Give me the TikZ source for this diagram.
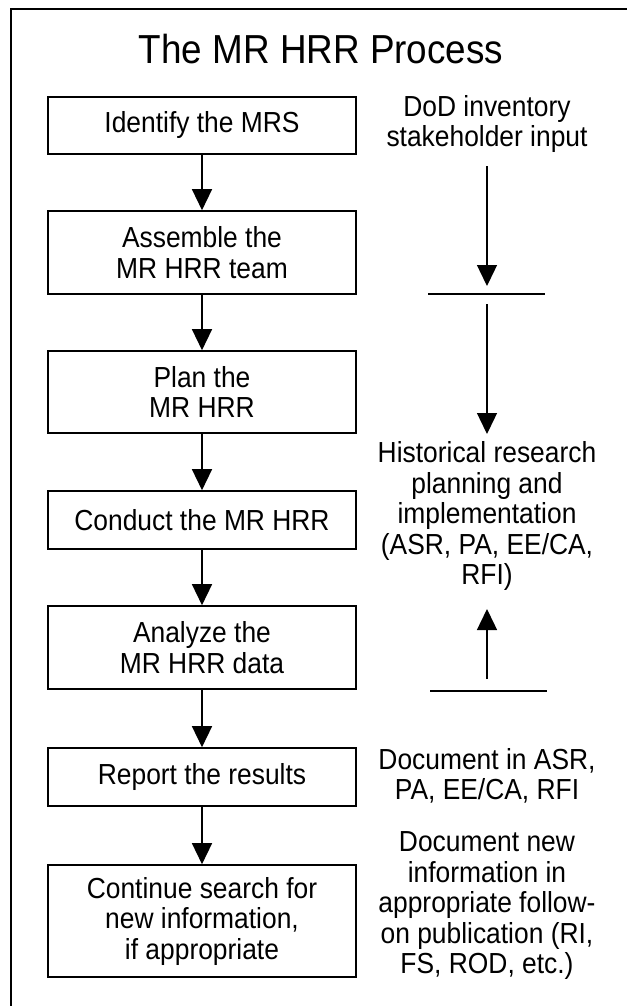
\documentclass[tikz,border=0pt]{standalone}
\usepackage{fontspec}
\setmainfont{Liberation Sans}[FakeStretch=0.91]
\usetikzlibrary{arrows.meta}
\begin{document}
\begin{tikzpicture}[x=1pt,y=-1pt,
  box/.style={draw, line width=1.6pt, minimum width=308pt, inner sep=0pt, align=center, font=\fontsize{29}{30.5}\selectfont},
  lbl/.style={align=center, inner sep=0pt, font=\fontsize{29}{30.5}\selectfont},
  arr/.style={line width=1.4pt, -{Triangle[width=20pt,length=21pt]}},
  bar/.style={line width=1.6pt}]
\useasboundingbox (0,0) rectangle (627,1006);
% frame
\coordinate (fb) at (11,1006);
\coordinate (ftl) at (11,9);
\coordinate (fr) at (627,9);
\draw[line width=2pt] (fb) -- (ftl) -- (fr);
% title
\node[inner sep=0pt, font=\fontsize{40.5}{43}\selectfont] (title) at (321,49) {The MR HRR Process};
% left boxes
\node[box, minimum height=57pt] (b1) at (202,125.5) {Identify the MRS};
\node[box, minimum height=83pt] (b2) at (202,252.5) {Assemble the\\MR HRR team};
\node[box, minimum height=82pt] (b3) at (202,392) {Plan the\\MR HRR};
\node[box, minimum height=58pt] (b4) at (202,520) {Conduct the MR HRR};
\node[box, minimum height=83pt] (b5) at (202,647.5) {Analyze the\\MR HRR data};
\node[box, minimum height=58pt] (b6) at (202,777) {Report the results};
\node[box, minimum height=112pt] (b7) at (202,921) {Continue search for\\new information,\\if appropriate};
\foreach \a/\b in {b1/b2,b2/b3,b3/b4,b4/b5,b5/b6,b6/b7}
  \draw[arr] (\a.south) -- (\b.north);
% right column
\node[lbl] (r1) at (487,124) {DoD inventory\\stakeholder input};
\node[lbl] (r2) at (487,516) {Historical research\\planning and\\implementation\\(ASR, PA, EE/CA,\\RFI)};
\node[lbl] (r3) at (487,776) {Document in ASR,\\PA, EE/CA, RFI};
\node[lbl] (r4) at (487,906) {Document new\\information in\\appropriate follow-\\on publication (RI,\\FS, ROD, etc.)};
\coordinate (a1s) at (487,166);
\coordinate (a1e) at (487,286);
\coordinate (bar1l) at (428,294);
\coordinate (bar1r) at (545,294);
\coordinate (a2s) at (487,304);
\coordinate (a2e) at (487,434);
\coordinate (a3s) at (487,679);
\coordinate (a3e) at (487,609);
\coordinate (bar2l) at (430,691);
\coordinate (bar2r) at (547,691);
\draw[arr] (a1s) -- (a1e);
\draw[bar] (bar1l) -- (bar1r);
\draw[arr] (a2s) -- (a2e);
\draw[arr] (a3s) -- (a3e);
\draw[bar] (bar2l) -- (bar2r);
\end{tikzpicture}
\end{document}
